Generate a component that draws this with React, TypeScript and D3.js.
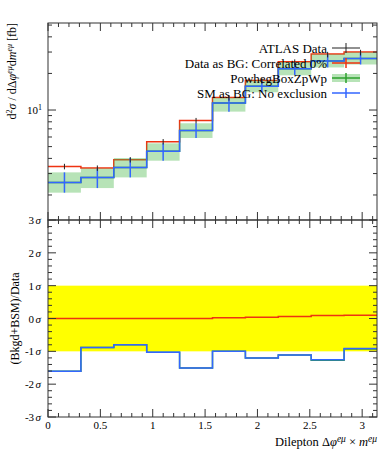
import React from 'react';
import * as d3 from 'd3';

// bin edges of the dilepton observable (0 .. pi, 10 bins)
const binEdges = [0, 0.31416, 0.62832, 0.94248, 1.25664, 1.5708, 1.88496, 2.19911, 2.51327, 2.82743, 3.14159];

// upper panel values [fb]
const dataVals = [3.43, 3.33, 3.9, 5.49, 8.19, 12.6, 17.4, 24.8, 28.6, 29.7];
const dataErr = [0.18, 0.17, 0.2, 0.28, 0.42, 0.65, 0.9, 1.3, 1.5, 1.6];
const bgVals = [3.43, 3.33, 3.9, 5.49, 8.19, 12.65, 17.5, 25.0, 28.9, 30.0];
const smVals = [2.53, 2.79, 3.37, 4.57, 6.78, 11.4, 15.7, 21.9, 25.3, 26.5];
const smLo = [2.09, 2.28, 2.79, 3.83, 5.89, 9.7, 14.0, 19.3, 22.4, 23.7];
const smHi = [3.07, 3.3, 4.03, 5.32, 7.78, 12.6, 17.5, 24.8, 28.7, 29.8];

// lower panel, in units of sigma
const bgSig = [0, 0, 0, 0, 0, 0.02, 0.04, 0.06, 0.09, 0.1];
const smSig = [-1.61, -0.88, -0.8, -1.03, -1.51, -1.0, -1.2, -1.11, -1.26, -0.91];
const zpSig = [-1.61, -0.88, -0.8, -1.03, -1.51, -1.0, -1.2, -1.11, -1.27, -0.93];

const xTickLabels = ['0', '0.5', '1', '1.5', '2', '2.5', '3'];
const sigTickLabels = ['-3', '-2', '-1', '0', '1', '2', '3'];
const legendLabels = ['ATLAS Data', 'Data as BG: Correlated 0%', 'PowhegBoxZpWp', 'SM as BG: No exclusion'];

const RED = '#ee3311';
const BLUE = '#3366ff';
const GREEN = '#2ca02c';
const FONT = '"Liberation Serif", serif';

const left = 48, right = 377;
const topY0 = 23, topY1 = 220, botY1 = 417;

function stepPath(vals: number[], x: any, y: any) {
  const pts: [number, number][] = [];
  vals.forEach((v, i) => {
    pts.push([x(binEdges[i]), y(v)]);
    pts.push([x(binEdges[i + 1]), y(v)]);
  });
  return d3.line()(pts) as string;
}

function Frame({ y0, y1 }: { y0: number; y1: number }) {
  return <rect x={left} y={y0} width={right - left} height={y1 - y0} fill="none" stroke="#333" strokeWidth={1} />;
}

function XTicks({ x, y0, y1 }: { x: any; y0: number; y1: number }) {
  const minor = d3.range(0, 3.15, 0.1);
  return (
    <g stroke="#333" strokeWidth={1}>
      {minor.map((t, i) => {
        const major = i % 5 === 0;
        const len = major ? 8 : 4;
        const px = x(t);
        return (
          <g key={i}>
            <line x1={px} x2={px} y1={y0} y2={y0 + len} />
            <line x1={px} x2={px} y1={y1} y2={y1 - len} />
          </g>
        );
      })}
    </g>
  );
}

function YTicks({ ticks }: { ticks: { v: number; major: boolean }[] }) {
  return (
    <g stroke="#333" strokeWidth={1}>
      {ticks.map((t, i) => {
        const len = t.major ? 8 : 4;
        return (
          <g key={i}>
            <line x1={left} x2={left + len} y1={t.v} y2={t.v} />
            <line x1={right} x2={right - len} y1={t.v} y2={t.v} />
          </g>
        );
      })}
    </g>
  );
}

export default function App() {
  const x = d3.scaleLinear().domain([0, Math.PI]).range([left, right]);
  const yTop = d3.scaleLog().domain([1.245, 52]).range([topY1, topY0]);
  const yBot = d3.scaleLinear().domain([-3, 3]).range([botY1, topY1]);

  const topTicks = [2, 3, 4, 5, 6, 7, 8, 9, 10, 20, 30, 40, 50].map(v => ({ v: yTop(v), major: v === 10 }));
  const botTicks = d3.range(-3, 3.01, 0.2).map((v, i) => ({ v: yBot(v), major: i % 5 === 0 }));

  const centers = binEdges.slice(0, -1).map((e, i) => (e + binEdges[i + 1]) / 2);

  const legendY = [48, 63, 78, 93];
  const lx0 = 332, lx1 = 360, lxc = 346;

  return (
    <svg width={389} height={450} style={{ position: 'absolute', left: 0, top: 0 }} fontFamily={FONT}>
      <rect width={389} height={450} fill="#fff" />

      {/* upper panel */}
      <path d={stepPath(bgVals, x, yTop)} fill="none" stroke={RED} strokeWidth={1.5} />
      {binEdges.slice(0, -1).map((e, i) => (
        <rect key={i} x={x(e)} width={x(binEdges[i + 1]) - x(e)} y={yTop(smHi[i])}
          height={yTop(smLo[i]) - yTop(smHi[i])} fill="#4cb84c" opacity={0.4} />
      ))}
      <path d={stepPath(smVals, x, yTop)} fill="none" stroke={GREEN} strokeWidth={1.5} />
      <path d={stepPath(smVals, x, yTop)} fill="none" stroke={BLUE} strokeWidth={1.5} />
      {centers.map((c, i) => (
        <line key={'s' + i} x1={x(c)} x2={x(c)} y1={yTop(smLo[i])} y2={yTop(smHi[i])} stroke={BLUE} strokeWidth={1.5} />
      ))}
      {centers.map((c, i) => (
        <line key={'d' + i} x1={x(c)} x2={x(c)} y1={yTop(dataVals[i] - dataErr[i])} y2={yTop(dataVals[i] + dataErr[i])}
          stroke="#222" strokeWidth={1} />
      ))}
      <Frame y0={topY0} y1={topY1} />
      <XTicks x={x} y0={topY0} y1={topY1} />
      <YTicks ticks={topTicks} />
      <text x={42} y={yTop(10) + 4} fontSize={11} textAnchor="end">
        10<tspan dy={-4} fontSize={8}>1</tspan>
      </text>
      <text transform={`translate(16,${topY0}) rotate(-90)`} fontSize={12} textAnchor="end">
        d<tspan dy={-4} fontSize={8}>2</tspan><tspan dy={4} fontStyle="italic">σ</tspan><tspan> / dΔ</tspan>
        <tspan fontStyle="italic">φ</tspan><tspan dy={-4} fontSize={8} fontStyle="italic">eμ</tspan>
        <tspan dy={4}>d</tspan><tspan fontStyle="italic">m</tspan><tspan dy={-4} fontSize={8} fontStyle="italic">eμ</tspan>
        <tspan dy={4}> [fb]</tspan>
      </text>

      {/* legend */}
      {legendLabels.map((l, i) => (
        <text key={l} x={327} y={legendY[i] + 4.5} fontSize={13} textAnchor="end">{l}</text>
      ))}
      <g strokeWidth={1.5}>
        <line x1={lx0} x2={lx1} y1={legendY[0]} y2={legendY[0]} stroke="#222" strokeWidth={1} />
        <line x1={lxc} x2={lxc} y1={legendY[0] - 5} y2={legendY[0] + 5} stroke="#222" strokeWidth={1} />
        <line x1={lx0} x2={lx1} y1={legendY[1]} y2={legendY[1]} stroke={RED} />
        <line x1={lxc} x2={lxc} y1={legendY[1] - 5} y2={legendY[1] + 5} stroke={RED} />
        <rect x={lx0} y={legendY[2] - 4} width={lx1 - lx0} height={8} fill="#4cb84c" opacity={0.4} />
        <line x1={lx0} x2={lx1} y1={legendY[2]} y2={legendY[2]} stroke={GREEN} />
        <line x1={lxc} x2={lxc} y1={legendY[2] - 5} y2={legendY[2] + 5} stroke={GREEN} />
        <line x1={lx0} x2={lx1} y1={legendY[3]} y2={legendY[3]} stroke={BLUE} />
        <line x1={lxc} x2={lxc} y1={legendY[3] - 5} y2={legendY[3] + 5} stroke={BLUE} />
      </g>

      {/* lower panel */}
      <rect x={left} y={yBot(1)} width={right - left} height={yBot(-1) - yBot(1)} fill="#ffff00" />
      <path d={stepPath(bgSig, x, yBot)} fill="none" stroke={RED} strokeWidth={1.5} />
      <path d={stepPath(zpSig, x, yBot)} fill="none" stroke={GREEN} strokeWidth={1.5} />
      <path d={stepPath(smSig, x, yBot)} fill="none" stroke={BLUE} strokeWidth={1.5} />
      <Frame y0={topY1} y1={botY1} />
      <XTicks x={x} y0={topY1} y1={botY1} />
      <YTicks ticks={botTicks} />
      {sigTickLabels.map(l => (
        <text key={l} x={41} y={yBot(+l) + 4} fontSize={11} textAnchor="end">
          {l}<tspan dx={1.5} fontStyle="italic">σ</tspan>
        </text>
      ))}
      {xTickLabels.map(l => (
        <text key={l} x={x(+l)} y={429} fontSize={11} textAnchor="middle">{l}</text>
      ))}
      <text transform={`translate(19,${yBot(0)}) rotate(-90)`} fontSize={12} textAnchor="middle">(Bkgd+BSM)/Data</text>
      <text x={right} y={446} fontSize={12.5} textAnchor="end">
        Dilepton Δ<tspan fontStyle="italic">φ</tspan><tspan dy={-4} fontSize={9.5} fontStyle="italic">eμ</tspan>
        <tspan dy={4} dx={3}>×</tspan><tspan dx={3} fontStyle="italic">m</tspan>
        <tspan dy={-4} fontSize={9.5} fontStyle="italic">eμ</tspan>
      </text>
    </svg>
  );
}
